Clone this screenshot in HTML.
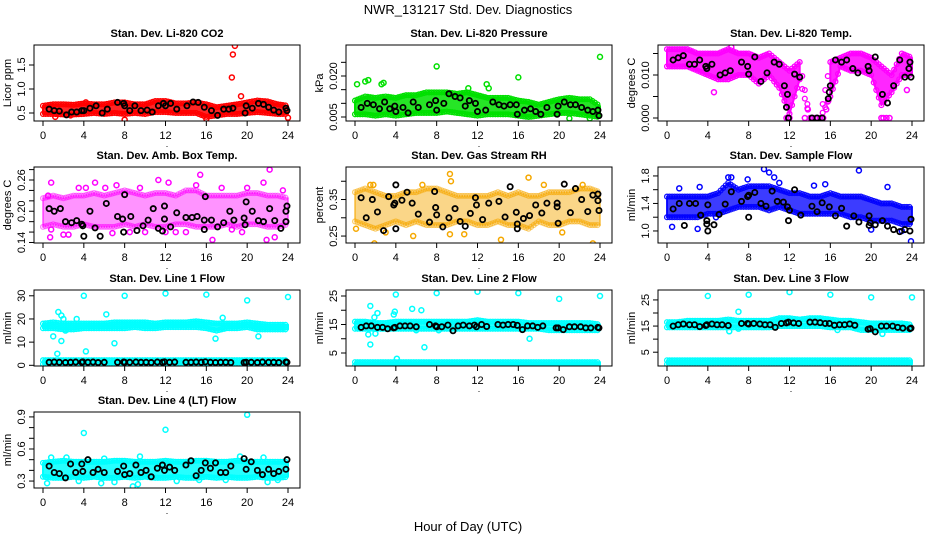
<!DOCTYPE html>
<html><head><meta charset="utf-8"><style>
body{margin:0;background:#fff;}
svg{display:block;font-family:"Liberation Sans",Arial,sans-serif;}
</style></head><body>
<svg id="chart" width="936" height="540" viewBox="0 0 936 540">
<text x="468" y="14" text-anchor="middle" font-size="13">NWR_131217  Std. Dev. Diagnostics</text>
<text x="468" y="531" text-anchor="middle" font-size="13">Hour of Day (UTC)</text>
</svg>
<script>
// ---------- data ----------
const bandHours=[0,1,2,3,4,5,6,7,8,9,10,11,12,13,14,15,16,17,18,19,20,21,22,23,24];
const xTicks=[0,4,8,12,16,20,24];
const blackHours=[0.6,1.1,1.6,2.2,2.7,3.2,3.8,3.9,4.4,4.9,5.4,6.0,7.3,7.9,8.0,8.5,9.1,9.6,10.1,10.6,11.2,11.7,11.9,12.4,12.9,14.0,14.5,15.0,15.5,15.9,16.4,16.9,17.4,17.9,18.4,19.7,19.9,20.4,21.0,21.5,22.1,22.6,23.1,23.8,23.9];

// P1 CO2
const co2Lo=[0.48,0.48,0.47,0.47,0.48,0.5,0.48,0.5,0.48,0.5,0.48,0.52,0.52,0.5,0.5,0.5,0.42,0.45,0.48,0.48,0.5,0.52,0.5,0.48,0.48];
const co2Hi=[0.65,0.68,0.68,0.67,0.7,0.68,0.68,0.72,0.72,0.68,0.68,0.75,0.75,0.7,0.7,0.72,0.68,0.62,0.65,0.68,0.72,0.76,0.74,0.68,0.65];
const co2Out=[[18.5,1.24],[18.6,1.72],[18.8,1.9],[19.4,0.85],[8.0,0.36],[24,0.4],[1.2,0.42],[16,0.38],[4.2,0.72],[7.3,0.72],[2.7,0.45]];
const co2Black=[[0.6,0.58],[1.1,0.55],[1.6,0.54],[2.3,0.46],[2.8,0.52],[3.3,0.52],[3.8,0.55],[4.0,0.55],[4.6,0.6],[5.2,0.65],[5.8,0.5],[6.3,0.58],[7.3,0.72],[7.9,0.7],[8.0,0.65],[8.5,0.55],[9.0,0.65],[9.6,0.55],[10.2,0.56],[10.7,0.52],[11.3,0.65],[11.8,0.7],[12.0,0.65],[12.5,0.7],[13.1,0.58],[14.1,0.65],[14.7,0.73],[15.2,0.72],[15.8,0.62],[16.5,0.55],[17.1,0.45],[17.7,0.58],[18.2,0.58],[18.6,0.6],[19.8,0.5],[19.9,0.65],[20.5,0.6],[21.1,0.7],[21.6,0.68],[22.1,0.62],[22.6,0.56],[23.1,0.52],[23.8,0.6],[23.9,0.55]];
// P2 pressure
const presLo=[0.006,0.006,0.0055,0.006,0.0055,0.006,0.0065,0.0065,0.0065,0.007,0.0065,0.006,0.0055,0.006,0.006,0.006,0.0055,0.005,0.0055,0.006,0.0065,0.0065,0.006,0.0055,0.005];
const presHi=[0.011,0.0125,0.012,0.0125,0.012,0.013,0.013,0.014,0.014,0.014,0.0135,0.014,0.013,0.012,0.012,0.012,0.011,0.0105,0.0095,0.0105,0.0115,0.012,0.0115,0.0115,0.009];
const presOut=[[8,0.0235],[16,0.0195],[24,0.027],[0.2,0.017],[1,0.018],[1.3,0.0185],[2.6,0.017],[2.8,0.0175],[12.9,0.017],[23,0.0045],[21,0.0045],[11.1,0.0155],[13.1,0.0155]];
const presBlack=[[0.6,0.0085],[1.2,0.01],[1.8,0.0095],[2.4,0.008],[2.9,0.0105],[3.4,0.008],[3.9,0.009],[4.0,0.007],[4.7,0.0085],[5.2,0.0065],[5.7,0.0105],[6.2,0.0085],[7.3,0.0095],[7.9,0.011],[8.0,0.0075],[8.7,0.01],[9.2,0.0135],[9.8,0.0125],[10.3,0.012],[10.8,0.009],[11.2,0.011],[11.8,0.01],[12.0,0.007],[12.8,0.0075],[13.5,0.0105],[14.1,0.0095],[14.6,0.009],[15.2,0.0095],[15.8,0.0095],[15.9,0.006],[16.6,0.0075],[17.2,0.008],[17.7,0.007],[18.2,0.006],[18.8,0.0085],[19.8,0.006],[19.9,0.009],[20.5,0.0105],[21.1,0.0095],[21.6,0.0095],[22.2,0.0085],[22.8,0.0075],[23.3,0.007],[23.8,0.0075],[23.9,0.0055]];
// P3 Li-820 temp
const tempLo=[0.012,0.012,0.012,0.011,0.010,0.009,0.009,0.010,0.010,0.008,0.010,0.007,0.001,0.009,0,0,0.005,0.012,0.011,0.011,0.010,0.003,0.006,0.010,0.010];
const tempHi=[0.016,0.016,0.016,0.015,0.015,0.015,0.016,0.015,0.015,0.014,0.015,0.013,0.011,0.013,0,0,0.013,0.014,0.015,0.015,0.014,0.012,0.010,0.015,0.014];
const tempOut=[[4.6,0.006],[13.8,0.002],[23.5,0.0065],[12,0],[11.7,0],[14.5,0],[15,0],[21,0],[21.5,0],[15.6,0.002],[15.8,0.004],[6.3,0.0165],[13.5,0],[14,0],[14.3,0],[15.3,0],[21.2,0],[21.8,0]];
const tempBlack=[[0.6,0.0135],[1.1,0.014],[1.6,0.0145],[2.2,0.0125],[2.7,0.0125],[3.2,0.0135],[3.8,0.012],[3.9,0.0115],[4.4,0.0125],[5.2,0.01],[5.7,0.0105],[6.2,0.011],[7.3,0.013],[7.9,0.012],[8.0,0.0102],[8.6,0.0142],[9.2,0.0085],[9.8,0.0105],[10.5,0.013],[11,0.0125],[11.5,0.0075],[11.8,0.0055],[11.7,0.0025],[11.9,0],[12.5,0.0102],[13.0,0.0095],[14.2,0],[14.7,0],[15.2,0],[15.8,0.0045],[15.9,0.006],[16,0.0075],[16.5,0.0135],[17.1,0.013],[17.6,0.0135],[18.2,0.0115],[18.7,0.0105],[19.7,0.012],[19.8,0.011],[20.4,0.0142],[21.1,0.0055],[21.6,0.0035],[22.2,0.0075],[22.8,0.0135],[23.3,0.0095],[23.7,0.0115],[23.8,0.013],[23.9,0.0095]];
// P4 amb box temp
const ambLo=[0.17,0.175,0.17,0.17,0.175,0.17,0.17,0.17,0.175,0.17,0.175,0.17,0.17,0.175,0.175,0.17,0.17,0.17,0.175,0.17,0.175,0.175,0.17,0.17,0.175];
const ambHi=[0.225,0.23,0.225,0.23,0.23,0.235,0.23,0.235,0.24,0.235,0.23,0.235,0.235,0.23,0.24,0.24,0.23,0.23,0.23,0.23,0.235,0.235,0.23,0.23,0.225];
const ambOut=[[0.5,0.23],[0.8,0.255],[0.7,0.15],[5.1,0.255],[6.1,0.245],[11.3,0.26],[12.3,0.255],[15.4,0.27],[16.6,0.145],[21.6,0.255],[21.9,0.145],[22.2,0.28],[22.7,0.15],[0.8,0.165],[2,0.155],[2.5,0.155],[4.2,0.245],[8.5,0.16],[10,0.16],[12,0.16],[14,0.16],[19.5,0.16],[3.5,0.245],[7.2,0.25],[9.5,0.245],[15,0.25],[17.5,0.245],[20,0.245],[23.5,0.24],[13,0.16],[18.5,0.165],[6.8,0.158]];
const ambBlack=[[0.6,0.205],[1.1,0.2],[1.7,0.205],[2.2,0.18],[2.8,0.178],[3.3,0.182],[3.8,0.175],[3.9,0.172],[4.0,0.152],[4.6,0.2],[5.1,0.168],[5.6,0.152],[6.2,0.215],[7.3,0.19],[7.8,0.185],[7.9,0.16],[8.0,0.232],[8.6,0.19],[9.2,0.163],[9.8,0.172],[10.3,0.183],[10.8,0.205],[11.3,0.167],[11.7,0.162],[11.9,0.185],[11.9,0.21],[12.5,0.17],[13.1,0.197],[14.0,0.188],[14.6,0.188],[15.1,0.19],[15.8,0.183],[15.8,0.165],[15.9,0.228],[16.5,0.183],[17.1,0.17],[17.7,0.178],[18.3,0.2],[18.7,0.183],[19.7,0.187],[19.8,0.174],[19.9,0.218],[20.5,0.2],[21.1,0.182],[21.6,0.18],[22.2,0.205],[22.7,0.182],[23.3,0.167],[23.8,0.18],[23.8,0.2],[23.9,0.21]];
// P5 gas stream RH
const rhLo=[0.29,0.28,0.27,0.28,0.29,0.28,0.29,0.28,0.28,0.28,0.29,0.29,0.28,0.28,0.29,0.28,0.28,0.27,0.29,0.28,0.28,0.29,0.29,0.28,0.28];
const rhHi=[0.37,0.38,0.37,0.36,0.36,0.37,0.37,0.38,0.38,0.37,0.36,0.36,0.36,0.36,0.37,0.36,0.37,0.36,0.36,0.37,0.37,0.37,0.38,0.38,0.37];
const rhOut=[[1.5,0.39],[1.9,0.23],[9.3,0.42],[9.4,0.4],[17,0.41],[23.3,0.23],[14.3,0.24],[5.7,0.25],[9.3,0.255],[10.7,0.255],[6.6,0.39],[22.3,0.39],[0.1,0.27],[3,0.26],[20.3,0.26],[1.8,0.39],[18.5,0.39]];
const rhBlack=[[0.6,0.355],[1.1,0.3],[1.7,0.35],[2.2,0.316],[2.8,0.265],[3.3,0.358],[3.8,0.335],[3.9,0.34],[4.0,0.27],[4.0,0.39],[4.6,0.348],[5.1,0.37],[5.6,0.34],[6.2,0.31],[7.3,0.288],[7.8,0.372],[7.9,0.328],[8.0,0.308],[8.6,0.275],[9.2,0.3],[9.8,0.325],[10.3,0.29],[10.8,0.277],[11.3,0.312],[11.8,0.355],[11.9,0.335],[12.5,0.295],[13.1,0.34],[14.1,0.345],[14.7,0.302],[15.2,0.385],[15.8,0.315],[15.9,0.283],[15.9,0.27],[16.5,0.298],[17.1,0.306],[17.7,0.335],[18.3,0.313],[18.8,0.34],[19.8,0.34],[19.8,0.33],[19.9,0.285],[20.5,0.392],[21.1,0.314],[21.6,0.38],[22.2,0.35],[22.8,0.317],[23.3,0.362],[23.8,0.365],[23.8,0.347],[23.9,0.32]];
// P6 sample flow
const sfLo=[1.2,1.2,1.2,1.2,1.25,1.25,1.3,1.35,1.35,1.35,1.3,1.35,1.3,1.25,1.25,1.25,1.25,1.25,1.2,1.2,1.15,1.15,1.15,1.1,1.1];
const sfHi=[1.5,1.5,1.5,1.5,1.5,1.55,1.7,1.6,1.65,1.65,1.65,1.6,1.55,1.55,1.5,1.5,1.55,1.5,1.5,1.5,1.45,1.4,1.4,1.35,1.35];
const sfOut=[[9.5,1.9],[10,1.85],[10.5,1.78],[18.8,1.88],[21.6,1.64],[23.9,0.85],[3,1.03],[0.5,1.06],[3.2,1.64],[7.9,1.75],[6.3,1.78],[14.4,1.66],[15.5,1.68],[1.2,1.62],[20,1.02],[23,1.0],[4.8,1.2],[6.0,1.78],[11,1.7]];
const sfBlack=[[0.6,1.32],[1.2,1.4],[1.7,1.08],[2.2,1.4],[2.8,1.4],[3.3,1.23],[3.9,1.15],[3.9,1.1],[4.0,1.38],[4.0,1.0],[4.6,1.09],[5.1,1.24],[5.7,1.39],[6.3,1.57],[7.3,1.43],[7.9,1.5],[8.0,1.52],[8.0,1.2],[8.6,1.56],[9.2,1.4],[9.7,1.36],[10.3,1.58],[10.8,1.43],[11.4,1.42],[11.8,1.35],[11.9,1.15],[12.0,1.3],[12.5,1.6],[13.1,1.23],[14.2,1.36],[14.7,1.28],[15.2,1.41],[15.9,1.35],[16.5,1.22],[17.1,1.33],[17.6,1.07],[18.3,1.22],[18.8,1.13],[19.8,1.22],[19.8,1.08],[19.9,1.12],[20.4,1.09],[21.1,1.15],[21.6,1.07],[22.2,1.02],[22.8,0.99],[23.3,1.02],[23.8,1.0],[23.9,1.17]];
// P7 line 1
const l1Lo=[16,16,15.5,15.5,16,16,16,16,16,16.5,16,16,16.5,16.5,16.5,16.5,16,15,16,16,16.5,15.5,15.5,15.5,15.5];
const l1Hi=[18,18.5,18,18,18,18,18,18.5,18.5,18.5,18.5,18,18.5,18.5,18.5,19,18.5,18,18,18,18.5,18,17.5,17.5,17.5];
const l1BaseLo=[0.5,0.5,0.5,0.5,0.5,0.5,0.5,0.5,0.5,0.5,0.5,0.5,0.5,0.5,0.5,0.5,0.5,0.5,0.5,0.5,0.5,0.5,0.5,0.5,0.5];
const l1BaseHi=[2.2,2.2,2.2,2.2,2.2,2.2,2.2,2.2,2.2,2.2,2.2,2.2,2.2,2.2,2.2,2.2,2.2,2.2,2.2,2.2,2.2,2.2,2.2,2.2,2.2];
const l1Out=[[4,30],[8,30],[12,31],[16,30.5],[20,28],[24,29.5],[1.5,23],[1.8,21.5],[2,20],[3.3,20],[6.2,22],[1,12.5],[1.4,5],[1.8,10.5],[2.2,15],[4.2,6],[7,9.5],[16.9,11.5],[17.6,20.5],[21.1,12.5]];
const l1Black=[1.3,1.4,1.3,1.2,1.3,1.4,1.3,1.5,1.3,1.4,1.2,1.3,1.3,1.4,1.3,1.3,1.4,1.3,1.3,1.2,1.4,1.3,1.5,1.3,1.4,1.3,1.3,1.4,1.3,1.5,1.3,1.2,1.3,1.3,1.2,1.2,1.3,1.3,1.2,1.4,1.3,1.3,1.2,1.4,1.3];
// P8 line 2
const l2Lo=[13.5,13.5,13.5,13.5,13.5,13.5,13.5,13.5,13.5,13.5,13.5,13.5,13.5,13.5,13.5,13.5,13.5,13.5,13.5,13,13,13,13,13,13];
const l2Hi=[16,16,15.5,15.5,16,16,16,16,16,16,16,16,16.5,16,16,16,16,15.5,15.5,15.5,15.5,15.5,15.5,15.5,15];
const l2BaseLo=[0.6,0.6,0.6,0.6,0.6,0.6,0.6,0.6,0.6,0.6,0.6,0.6,0.6,0.6,0.6,0.6,0.6,0.6,0.6,0.6,0.6,0.6,0.6,0.6,0.6];
const l2BaseHi=[1.8,1.8,1.8,1.8,1.8,1.8,1.8,1.8,1.8,1.8,1.8,1.8,1.8,1.8,1.8,1.8,1.8,1.8,1.8,1.8,1.8,1.8,1.8,1.8,1.8];
const l2Out=[[4,25.5],[8,26],[12,26.5],[16,26],[20,24],[24,25],[1.5,21.5],[1.9,17.5],[2.2,19],[3.8,18.5],[3.9,19.5],[5.6,20.5],[6.5,20],[1.5,8],[1.3,11.5],[2.0,11.8],[6.8,7],[4.1,3],[17.1,10],[6.0,13],[8.2,13]];
const l2Black=[14,14.5,14.5,14,14,13.5,13.8,14,14.5,14.5,14.5,14.2,15,14.5,14.2,14.2,14.8,12.8,14.5,14.8,14.5,14.8,14.2,15,14.3,15,14.8,15,15,14.7,13.2,14.5,14.5,14,14.5,13.8,13.8,13.2,14.2,14.2,14.2,13.8,13.8,14,13.8];
// P9 line 3
const l3Lo=[14.5,14.5,14.5,14.5,14.5,14.5,14.5,14.5,14.5,14.5,14.5,15,15,15,15,15,14.5,14.5,14.5,13.5,13.5,13.5,13.5,13.5,13.5];
const l3Hi=[16.5,16.5,17,17,17,17,17.5,17,17,17,17,18,18,17.5,18,18,17.5,17,17,16.5,16,16,16,16,15.5];
const l3BaseLo=[0.4,0.4,0.4,0.4,0.4,0.4,0.4,0.4,0.4,0.4,0.4,0.4,0.4,0.4,0.4,0.4,0.4,0.4,0.4,0.4,0.4,0.4,0.4,0.4,0.4];
const l3BaseHi=[1.9,1.9,1.9,1.9,1.9,1.9,1.9,1.9,1.9,1.9,1.9,1.9,1.9,1.9,1.9,1.9,1.9,1.9,1.9,1.9,1.9,1.9,1.9,1.9,1.9];
const l3Out=[[4,26.5],[8,27],[12,28],[16,27],[20,26],[24,26],[7,20.5],[6.1,13],[7,14],[16.7,13.5],[21.1,12]];
const l3Black=[15,15.5,15.8,15.5,15.5,14.8,15.2,15.5,15.8,15.5,15.5,15.2,16,16,15.8,16,15.8,15.5,15.5,14.5,16,16.2,16.5,16.2,16,16.5,16.5,16.3,16,16,15.3,15.5,15.5,15.8,15.3,13.8,14,12.8,15,15,15,14.5,14.2,14,14.2];
// P10 line 4
const l4Lo=[0.34,0.33,0.33,0.34,0.33,0.34,0.33,0.33,0.34,0.33,0.34,0.33,0.33,0.34,0.33,0.33,0.34,0.33,0.34,0.33,0.33,0.34,0.33,0.33,0.34];
const l4Hi=[0.47,0.48,0.49,0.48,0.48,0.48,0.48,0.49,0.49,0.48,0.48,0.48,0.49,0.48,0.48,0.49,0.49,0.48,0.48,0.49,0.48,0.48,0.48,0.48,0.48];
const l4Out=[[4,0.75],[12,0.78],[20,0.92],[8.8,0.25],[9.3,0.27],[0.4,0.28],[5.7,0.28],[0.8,0.52],[2.3,0.52],[9.5,0.53],[19.3,0.53],[21.6,0.52],[7,0.29],[13.1,0.3],[15.3,0.31],[22,0.29],[3.5,0.3],[17.9,0.31],[6,0.51],[23,0.31]];
const l4Black=[0.44,0.38,0.37,0.33,0.46,0.38,0.46,0.39,0.5,0.38,0.41,0.38,0.39,0.44,0.36,0.37,0.45,0.38,0.4,0.34,0.42,0.45,0.4,0.43,0.4,0.45,0.49,0.35,0.4,0.47,0.42,0.47,0.38,0.38,0.44,0.51,0.41,0.48,0.4,0.36,0.41,0.37,0.39,0.41,0.5];

// ---------- layout ----------
const svg=document.getElementById('chart');
const NS='http://www.w3.org/2000/svg';
const colLeft=[34,346,658], rowTop=[45,167,290,412], BW=266, BH=76;
function mk(tag,attrs,parent){const e=document.createElementNS(NS,tag);for(const k in attrs)e.setAttribute(k,attrs[k]);(parent||svg).appendChild(e);return e;}
function zip(h,v){return h.map((x,i)=>[x,v[i]]);}

const panels=[
 {key:'co2',title:'Stan. Dev. Li-820 CO2',ylab:'Licor ppm',c:0,r:0,ymin:0.333,ymax:1.917,ticks:[0.5,1.0,1.5],labels:['0.5','1.0','1.5'],color:'#ff0000',bands:[[co2Lo,co2Hi]],out:co2Out,black:co2Black},
 {key:'pressure',title:'Stan. Dev. Li-820 Pressure',ylab:'kPa',c:1,r:0,ymin:0.00354,ymax:0.03134,ticks:[0.005,0.010,0.015,0.020,0.025],labels:['0.005','','','0.020',''],color:'#00e000',bands:[[presLo,presHi]],out:presOut,black:presBlack},
 {key:'temp',title:'Stan. Dev. Li-820 Temp.',ylab:'degrees C',c:2,r:0,ymin:-0.0007,ymax:0.01698,ticks:[0,0.005,0.010,0.015],labels:['0.000','','0.010',''],color:'#ff00ff',bands:[[tempLo,tempHi]],out:tempOut,black:tempBlack},
 {key:'amb-temp',title:'Stan. Dev. Amb. Box Temp.',ylab:'degrees C',c:0,r:1,ymin:0.139,ymax:0.285,ticks:[0.14,0.16,0.18,0.20,0.22,0.24,0.26,0.28],labels:['0.14','','','0.20','','','0.26',''],color:'#ff00ff',op:0.5,bands:[[ambLo,ambHi]],out:ambOut,black:ambBlack},
 {key:'rh',title:'Stan. Dev. Gas Stream RH',ylab:'percent',c:1,r:1,ymin:0.231,ymax:0.439,ticks:[0.25,0.30,0.35,0.40],labels:['0.25','','0.35',''],color:'#f5a800',op:0.55,bands:[[rhLo,rhHi]],out:rhOut,black:rhBlack},
 {key:'sample-flow',title:'Stan. Dev. Sample Flow',ylab:'ml/min',c:2,r:1,ymin:0.825,ymax:1.93,ticks:[1.0,1.2,1.4,1.6,1.8],labels:['1.0','','1.4','','1.8'],color:'#0000ff',op:0.9,bands:[[sfLo,sfHi]],out:sfOut,black:sfBlack},
 {key:'line1',title:'Stan. Dev. Line 1 Flow',ylab:'ml/min',c:0,r:2,ymin:-0.3,ymax:32.5,ticks:[0,10,20,30],labels:['0','10','20','30'],color:'#00ffff',bands:[[l1Lo,l1Hi],[l1BaseLo,l1BaseHi]],out:l1Out,black:zip(blackHours,l1Black)},
 {key:'line2',title:'Stan. Dev. Line 2 Flow',ylab:'ml/min',c:1,r:2,ymin:0.44,ymax:27.1,ticks:[5,10,15,20,25],labels:['5','','15','','25'],color:'#00ffff',bands:[[l2Lo,l2Hi],[l2BaseLo,l2BaseHi]],out:l2Out,black:zip(blackHours,l2Black)},
 {key:'line3',title:'Stan. Dev. Line 3 Flow',ylab:'ml/min',c:2,r:2,ymin:-0.28,ymax:28.8,ticks:[5,10,15,20,25],labels:['5','','15','','25'],color:'#00ffff',bands:[[l3Lo,l3Hi],[l3BaseLo,l3BaseHi]],out:l3Out,black:zip(blackHours,l3Black)},
 {key:'line4',title:'Stan. Dev. Line 4 (LT) Flow',ylab:'ml/min',c:0,r:3,ymin:0.235,ymax:0.946,ticks:[0.3,0.4,0.5,0.6,0.7,0.8,0.9],labels:['0.3','','','0.6','','','0.9'],color:'#00ffff',bands:[[l4Lo,l4Hi]],out:l4Out,black:zip(blackHours,l4Black)}
];

panels.forEach(p=>{
  const L=colLeft[p.c], T=rowTop[p.r];
  const xs=h=>L+9+h*245/24;
  const ys=v=>T+BH-(v-p.ymin)/(p.ymax-p.ymin)*BH;
  const g=mk('g',{});
  
  
  const t=mk('text',{x:L+BW/2,y:T-8,'text-anchor':'middle','font-size':'11','font-weight':'bold'},g);
  t.textContent=p.title;
  
  
  const yl=mk('text',{x:0,y:0,'text-anchor':'middle','font-size':'11',transform:`translate(${L-23},${T+BH/2}) rotate(-90)`},g);
  yl.textContent=p.ylab;
  
  
  const cp=mk('clipPath',{id:'clip-'+p.key},g);
  mk('rect',{x:L,y:T,width:BW,height:BH},cp);
  const data=mk('g',{'clip-path':`url(#clip-${p.key})`},g);
  
  
  const col=p.color, op=p.op||1;
  p.bands.forEach(([lo,hi],bi)=>{
    // split band into segments where hi>lo
    let seg=[];
    const segs=[];
    bandHours.forEach((h,i)=>{
      if(hi[i]>lo[i]) seg.push(i); else {if(seg.length)segs.push(seg);seg=[];}
    });
    if(seg.length)segs.push(seg);
    segs.forEach(s=>{
      let pts=s.map(i=>xs(bandHours[i])+','+ys(hi[i]));
      pts=pts.concat(s.slice().reverse().map(i=>xs(bandHours[i])+','+ys(lo[i])));
      const poly=mk('polygon',{points:pts.join(' '),fill:col,'fill-opacity':op*0.85,stroke:col,'stroke-width':2,'stroke-linejoin':'round','stroke-opacity':op},data);
      
      
    });
    for(let i=0;i<bandHours.length-1;i++){
      if(!(hi[i]>lo[i])&&!(hi[i+1]>lo[i+1])) continue;
      for(let k=0;k<4;k++){
        const f=k/4,h=bandHours[i]+f*(bandHours[i+1]-bandHours[i]);
        const vl=lo[i]+f*(lo[i+1]-lo[i]),vh=hi[i]+f*(hi[i+1]-hi[i]);
        [vl,vh].forEach(v=>{
          const c=mk('circle',{cx:xs(h),cy:ys(v),r:2.4,fill:'none',stroke:col,'stroke-width':1.3,'stroke-opacity':op},data);
          
          
        });
      }
    }
  });
  p.out.forEach(([h,v])=>{
    const c=mk('circle',{cx:xs(h),cy:ys(v),r:2.5,fill:'none',stroke:col,'stroke-width':1.5},data);
    
    
  });
  p.black.forEach(([h,v])=>{
    const c=mk('circle',{cx:xs(h),cy:ys(v),r:2.6,fill:'none',stroke:'#000','stroke-width':1.8},data);
    
    
  });
  const box=mk('rect',{x:L,y:T,width:BW,height:BH,fill:'none',stroke:'#000','stroke-width':1},g);
  
  
  p.ticks.forEach((v,i)=>{
    const y=ys(v);
    const tk=mk('line',{x1:L-5,x2:L,y1:y,y2:y,stroke:'#000','stroke-width':1},g);
    
    
    if(p.labels[i]){
      const tl=mk('text',{x:0,y:0,'text-anchor':'middle','font-size':'11',transform:`translate(${L-9},${y}) rotate(-90)`},g);
      tl.textContent=p.labels[i];
      
      
    }
  });
  xTicks.forEach(h=>{
    const x=xs(h);
    const tk=mk('line',{x1:x,x2:x,y1:T+BH,y2:T+BH+5,stroke:'#000','stroke-width':1},g);
    
    
    const tl=mk('text',{x:x,y:T+BH+18,'text-anchor':'middle','font-size':'11'},g);
    tl.textContent=String(h);
    
    
  });
  const dot=mk('text',{x:L+BW/2,y:T+BH+26,'text-anchor':'middle','font-size':'9'},g);
  dot.textContent='.';
  
  
});
</script>
</body></html>
